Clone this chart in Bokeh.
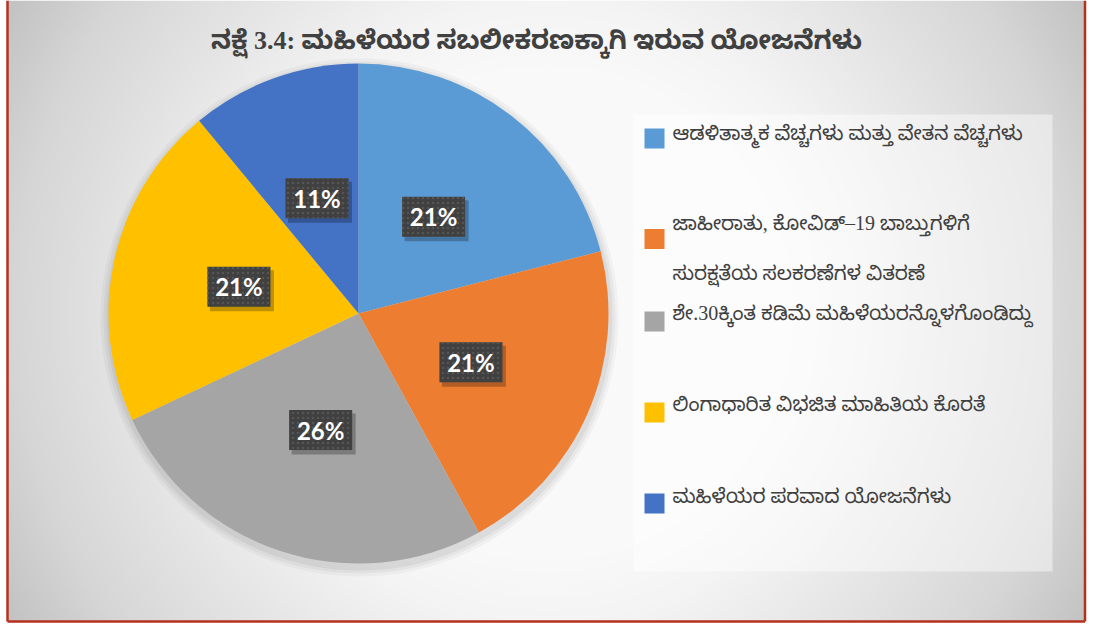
import numpy as np
from bokeh.plotting import figure
from bokeh.models import Range1d, ColumnDataSource
from bokeh.core.properties import value
from bokeh.embed import file_html
from bokeh.resources import INLINE

# ---- data ----
categories = [
    "ಆಡಳಿತಾತ್ಮಕ ವೆಚ್ಚಗಳು ಮತ್ತು ವೇತನ ವೆಚ್ಚಗಳು",
    "ಜಾಹೀರಾತು, ಕೋವಿಡ್–19 ಬಾಬ್ತುಗಳಿಗೆ\nಸುರಕ್ಷತೆಯ ಸಲಕರಣೆಗಳ ವಿತರಣೆ",
    "ಶೇ.30ಕ್ಕಿಂತ ಕಡಿಮೆ ಮಹಿಳೆಯರನ್ನೊಳಗೊಂಡಿದ್ದು",
    "ಲಿಂಗಾಧಾರಿತ ವಿಭಜಿತ ಮಾಹಿತಿಯ ಕೊರತೆ",
    "ಮಹಿಳೆಯರ ಪರವಾದ ಯೋಜನೆಗಳು",
]
values = [21, 21, 26, 21, 11]
colors = ["#5B9BD5", "#ED7D31", "#A5A5A5", "#FFC000", "#4472C4"]
title_text = "ನಕ್ಷೆ 3.4: ಮಹಿಳೆಯರ ಸಬಲೀಕರಣಕ್ಕಾಗಿ ಇರುವ ಯೋಜನೆಗಳು"

W, H = 1087, 624
KN_FONT = "Liberation Serif, Noto Sans Kannada, Noto Serif Kannada, serif"


def X(px):
    return px


def Y(py):
    return H - py


p = figure(width=W, height=H, output_backend="svg", toolbar_location=None,
           x_range=Range1d(0, W), y_range=Range1d(0, H), min_border=0,
           match_aspect=False)
p.axis.visible = False
p.grid.visible = False
p.outline_line_color = None
p.background_fill_color = "white"
p.border_fill_color = "white"

# ---- background radial gradient ----
step = 2
gw, gh = W // step + 1, H // step + 1
xs = (np.arange(gw) + 0.5) * step
ys = H - (np.arange(gh) + 0.5) * step
gx, gy = np.meshgrid(xs, ys)
d = np.sqrt((gx - 545.0) ** 2 + (gy - 313.0) ** 2)
g = np.interp(d, [0, 250, 313, 537, 620, 760], [250, 249, 244, 214, 196, 190]).astype(np.uint32)
img = (255 << 24) | (g << 16) | (g << 8) | g
p.image_rgba(image=[img.astype(np.uint32)], x=X(7), y=Y(621), dw=1084.5 - 7, dh=621)

# ---- border (left, right, bottom) ----
p.segment(x0=[X(7), X(1084.5), X(7)], y0=[Y(0), Y(0), Y(621)],
          x1=[X(7), X(1084.5), X(1084.5)], y1=[Y(621), Y(621), Y(621)],
          line_color="#B5301E", line_width=2.5)

# ---- pie ----
cx, cy, R = X(358), Y(313), 250
frac = np.array(values, dtype=float) / sum(values)
cum = np.concatenate([[0], np.cumsum(frac)])
starts = np.pi / 2 - 2 * np.pi * cum[:-1]
ends = np.pi / 2 - 2 * np.pi * cum[1:]

# soft shadow
for k, a in [(9, 0.03), (6, 0.04), (3, 0.05)]:
    p.circle(x=cx + 1, y=cy - 4, radius=R + k, fill_color="black", fill_alpha=a, line_color=None)

src = ColumnDataSource(dict(start=starts, end=ends, color=colors))
p.wedge(x=cx, y=cy, radius=R, start_angle="start", end_angle="end", direction="clock",
        fill_color="color", line_color=None, source=src)

# ---- data labels ----
mids = (starts + ends) / 2
rl = 0.49 * R
lx = cx + rl * np.cos(mids)
ly = cy + rl * np.sin(mids)
labels = [f"{v}%" for v in values]
p.rect(x=lx + 3, y=ly - 4, width=64, height=41, fill_color="black", fill_alpha=0.25, line_color=None)
p.rect(x=lx, y=ly, width=63, height=40, fill_color="#404040", line_color=None,
       hatch_pattern="dot", hatch_color="#555555", hatch_scale=5, hatch_weight=1.5)
p.text(x=lx, y=ly, text=labels, text_color="white", text_font=value("Lato"),
       text_font_style="bold", text_font_size="24px", text_align="center", text_baseline="middle")

# ---- title ----
p.text(x=[X(536)], y=[Y(40)], text=[title_text], text_color="#404040", text_font=value(KN_FONT),
       text_font_style="bold", text_font_size="26px", text_align="center", text_baseline="middle")

# ---- legend ----
p.quad(left=X(633), right=X(1052), top=Y(114), bottom=Y(571), fill_color="white",
       fill_alpha=0.45, line_color=None)
sq_y = [138, 238.5, 321, 412, 503]
tx_y = [132, 222, 312, 403, 495]
p.rect(x=[X(654)] * 5, y=[Y(v) for v in sq_y], width=20, height=20, fill_color=colors, line_color=None)
leg_x, leg_y, leg_t = [], [], []
for i, lab in enumerate(categories):
    for j, line in enumerate(lab.split("\n")):
        leg_x.append(X(672))
        leg_y.append(Y(tx_y[i] + 50 * j))
        leg_t.append(line)
p.text(x=leg_x, y=leg_y, text=leg_t, text_color="#404040", text_font=value(KN_FONT),
       text_font_size="20px", text_align="left", text_baseline="middle")

open("out.html", "w").write(file_html(p, INLINE))
